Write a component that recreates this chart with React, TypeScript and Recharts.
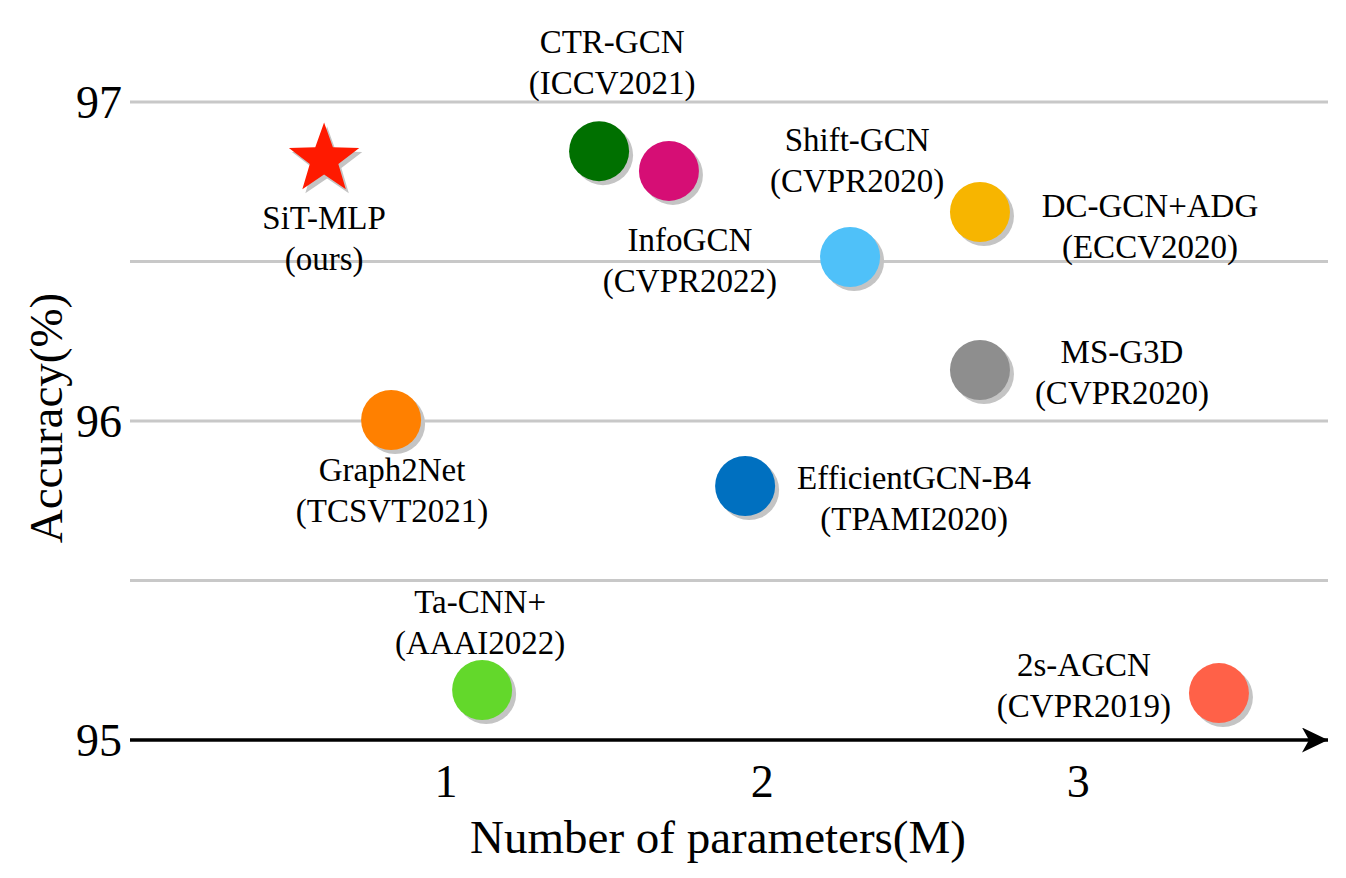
import { ScatterChart, Scatter, XAxis, YAxis, ReferenceLine, Label } from 'recharts';

// Accuracy vs. number of parameters, one dot per method
const methods = ['SiT-MLP', 'CTR-GCN', 'InfoGCN', 'Shift-GCN', 'DC-GCN+ADG', 'MS-G3D', 'Graph2Net', 'EfficientGCN-B4', 'Ta-CNN+', '2s-AGCN'];
const venues = ['(ours)', '(ICCV2021)', '(CVPR2022)', '(CVPR2020)', '(ECCV2020)', '(CVPR2020)', '(TCSVT2021)', '(TPAMI2020)', '(AAAI2022)', '(CVPR2019)'];
const params = [0.614, 1.484, 1.705, 2.278, 2.689, 2.689, 0.826, 1.946, 1.114, 3.445];
const accuracy = [96.82, 96.846, 96.784, 96.514, 96.655, 96.16, 96.003, 95.796, 95.157, 95.147];

const xTicks = [1, 2, 3];
const yTicks = [95, 96, 97];
const gridValues = [95.5, 96, 96.5, 97];

// styles / label placement (not data)
const dotColors = ['#FF1A00', '#007000', '#D60E75', '#4FC1F9', '#F7B500', '#8E8E8E', '#FF8000', '#0070C0', '#63D82B', '#FF6148'];
const labelOffsets: [number, number][] = [
  [0, 70], [13, -98], [21, 80], [7, -106], [170, 5],
  [142, -7], [1, 61], [169, 3], [-2, -77], [-135, -17],
];

const FONT = '"Liberation Serif", "Times New Roman", serif';

const points = methods.map((name, i) => ({ name, venue: venues[i], x: params[i], y: accuracy[i], idx: i }));

function starPath(cx: number, cy: number, R: number, r: number) {
  const pts: string[] = [];
  for (let k = 0; k < 10; k++) {
    const rad = k % 2 === 0 ? R : r;
    const a = -Math.PI / 2 + (k * Math.PI) / 5;
    pts.push(`${cx + rad * Math.cos(a)},${cy + rad * Math.sin(a)}`);
  }
  return 'M' + pts.join('L') + 'Z';
}

function Dot(props: any) {
  const { cx, cy, payload } = props;
  const i = payload.idx;
  const [dx, dy] = labelOffsets[i];
  const color = dotColors[i];
  const label = (
    <text x={cx + dx} y={cy + dy} textAnchor="middle" fontFamily={FONT} fontSize={33} fill="#000">
      <tspan x={cx + dx}>{payload.name}</tspan>
      <tspan x={cx + dx} dy={41}>{payload.venue}</tspan>
    </text>
  );
  if (i === 0) {
    return (
      <g>
        <path d={starPath(cx + 3, cy + 4, 37, 15)} fill="#c4c4c4" />
        <path d={starPath(cx, cy, 37, 15)} fill={color} />
        {label}
      </g>
    );
  }
  return (
    <g>
      <circle cx={cx + 4} cy={cy + 4} r={30} fill="#c4c4c4" />
      <circle cx={cx} cy={cy} r={30} fill={color} />
      {label}
    </g>
  );
}

export default function App() {
  return (
    <div style={{ position: 'absolute', left: 0, top: 0, width: 1346, height: 878, background: '#fff' }}>
      <ScatterChart width={1346} height={878} margin={{ top: 102, right: 18, bottom: 0, left: 0 }}>
        {gridValues.map((v) => (
          <ReferenceLine key={v} y={v} stroke="#c8c8c8" strokeWidth={3} />
        ))}
        <XAxis
          type="number"
          dataKey="x"
          domain={[0, 3.79]}
          ticks={xTicks}
          height={138}
          tickSize={0}
          tickMargin={24}
          tick={{ fontSize: 46, fill: '#000', fontFamily: FONT }}
          axisLine={{ stroke: '#000', strokeWidth: 3.5, markerEnd: 'url(#axisArrow)' }}
        >
          <Label
            content={(p: any) => {
              const vb = p.viewBox;
              return (
                <g>
                  <defs>
                    <marker id="axisArrow" markerUnits="userSpaceOnUse" markerWidth={28} markerHeight={28} refX={26} refY={12.5} orient="auto">
                      <path d="M0,0 L26,12.5 L0,25 L7,12.5 Z" fill="#000" />
                    </marker>
                  </defs>
                  <text x={vb.x + vb.width / 2 - 11} y={853} textAnchor="middle" fontFamily={FONT} fontSize={47} fill="#000">
                    Number of parameters(M)
                  </text>
                </g>
              );
            }}
          />
        </XAxis>
        <YAxis
          type="number"
          dataKey="y"
          domain={[95, 97]}
          ticks={yTicks}
          width={130}
          tickSize={0}
          tickMargin={8}
          axisLine={false}
          tick={{ fontSize: 46, fill: '#000', fontFamily: FONT }}
        >
          <Label
            content={(p: any) => {
              const vb = p.viewBox;
              const cy = vb.y + vb.height / 2 - 3;
              return (
                <text
                  x={46}
                  y={cy}
                  transform={`rotate(-90, 46, ${cy})`}
                  textAnchor="middle"
                  dominantBaseline="central"
                  fontFamily={FONT}
                  fontSize={47}
                  fill="#000"
                >
                  Accuracy(%)
                </text>
              );
            }}
          />
        </YAxis>
        <Scatter data={points} shape={<Dot />} isAnimationActive={false} />
      </ScatterChart>
    </div>
  );
}
